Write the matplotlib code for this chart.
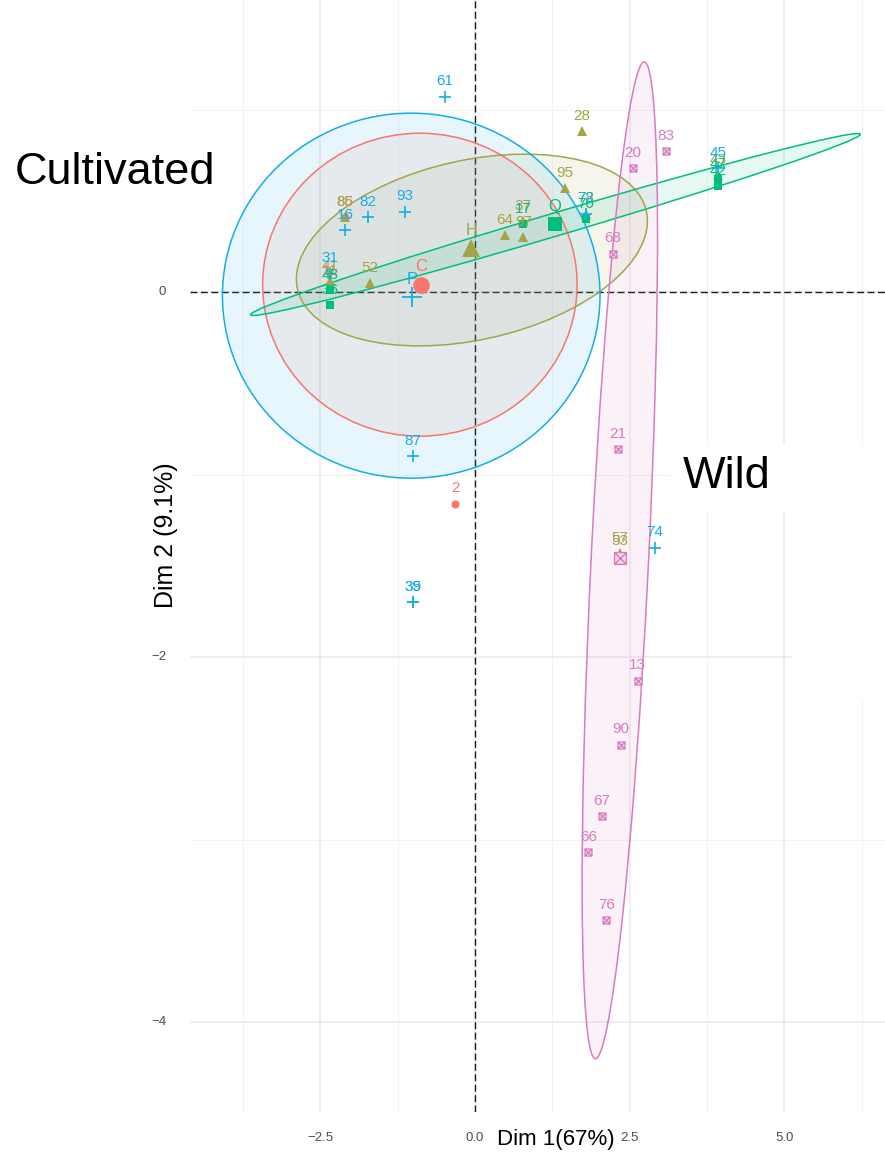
import matplotlib
matplotlib.use("Agg")
import matplotlib.pyplot as plt
from matplotlib.patches import Ellipse, Rectangle
from matplotlib.path import Path

plt.rcParams['font.family'] = ['Liberation Sans', 'DejaVu Sans']

# ---- individuals per group (PCA coordinates, Dim 1 / Dim 2) ----
red_x = [-0.32, -2.10, -2.34]
red_y = [-1.16, 0.41, 0.03]
red_lab = ["2", "85", "11"]

olive_x = [1.73, 1.45, 0.485, 0.78, 0.78, -1.70, -2.10, -2.34, 1.79, 2.34, 2.34, 3.93]
olive_y = [0.88, 0.57, 0.31, 0.30, 0.39, 0.05, 0.41, 0.06, 0.43, -1.43, -1.45, 0.64]
olive_lab = ["28", "95", "64", "97", "37", "52", "86", "41", "78", "57", "53", "43"]

green_x = [0.78, -2.34, -2.34, 3.93, 3.93, 1.79]
green_y = [0.37, 0.01, -0.07, 0.62, 0.58, 0.40]
green_lab = ["17", "48", "36", "47", "42", "70"]

blue_x = [-0.485, -1.73, -1.13, -2.10, -1.00, -1.00, -1.00, 2.91, 1.79, -2.34, 3.93]
blue_y = [1.07, 0.41, 0.44, 0.34, -0.90, -1.70, -1.70, -1.40, 0.43, 0.10, 0.68]
blue_lab = ["61", "82", "93", "16", "87", "35", "39", "74", "72", "31", "45"]

pink_x = [3.09, 2.55, 2.23, 2.31, 2.63, 2.36, 2.05, 1.83, 2.12]
pink_y = [0.77, 0.68, 0.21, -0.86, -2.13, -2.48, -2.87, -3.07, -3.44]
pink_lab = ["83", "20", "68", "21", "13", "90", "67", "66", "76"]

# ---- group means ----
mean_lab = ["C", "H", "Q", "P", ""]
mean_x = [-0.87, -0.06, 1.29, -1.02, 2.34]
mean_y = [0.04, 0.24, 0.37, -0.03, -1.46]

# ---- concentration ellipses: centre, semi-axes, rotation (deg) ----
ell_cx = [-0.89, -0.05, 1.30, -1.03, 2.34]
ell_cy = [0.04, 0.23, 0.37, -0.02, -1.47]
ell_a = [2.54, 2.84, 4.95, 3.05, 2.76]
ell_b = [0.83, 0.50, 0.065, 1.00, 0.46]
ell_ang = [0.0, 3.3, 5.73, 0.0, 81.56]

colors = ["#F8766D", "#A3A548", "#00BF7D", "#12AEEB", "#D97BC0"]

# square-with-cross marker
sq_cross = Path(
    [(-1, -1), (1, -1), (1, 1), (-1, 1), (-1, -1),
     (-1, -1), (1, 1), (-1, 1), (1, -1)],
    [Path.MOVETO, Path.LINETO, Path.LINETO, Path.LINETO, Path.CLOSEPOLY,
     Path.MOVETO, Path.LINETO, Path.MOVETO, Path.LINETO])

W, H = 885, 1155
fig = plt.figure(figsize=(W / 100, H / 100), dpi=100)
fig.patch.set_facecolor("white")
ax = fig.add_axes([190 / W, 1 - 1112 / H, 695 / W, 1112 / H])
ax.set_xlim(-4.604, 6.624)
ax.set_ylim(-4.493, 1.6)
for s in ax.spines.values():
    s.set_visible(False)
ax.set_xticks([-2.5, 0.0, 2.5, 5.0])
ax.set_yticks([-4, -2, 0])
ax.set_xticks([-3.75, -1.25, 1.25, 3.75, 6.25], minor=True)
ax.set_yticks([-3, -1, 1], minor=True)
ax.grid(True, which="major", color="#EBEBEB", lw=1.1, zorder=0)
ax.grid(True, which="minor", color="#F2F2F2", lw=0.7, zorder=0)
ax.tick_params(which="both", length=0, labelbottom=False, labelleft=False)
ax.set_axisbelow(True)

# blank panels at the right-hand side, above the grid but behind the data
for (x0, y0, x1, y1) in [(670, 445, 885, 512), (792, 512, 885, 700)]:
    ax.add_patch(Rectangle((x0 / W, 1 - y1 / H), (x1 - x0) / W, (y1 - y0) / H,
                           transform=fig.transFigure, facecolor="white",
                           edgecolor="none", zorder=0.9))

ax.axhline(0, color="#1a1a1a", lw=1.0, ls=(0, (5, 2.5)), zorder=1)
ax.axvline(0, color="#1a1a1a", lw=1.0, ls=(0, (5, 2.5)), zorder=1)

for cx, cy, a, b, ang, c in zip(ell_cx, ell_cy, ell_a, ell_b, ell_ang, colors):
    ax.add_patch(Ellipse((cx, cy), 2 * a, 2 * b, angle=ang, facecolor=c,
                         alpha=0.1, edgecolor="none", zorder=2))
    ax.add_patch(Ellipse((cx, cy), 2 * a, 2 * b, angle=ang, facecolor="none",
                         edgecolor=c, lw=1.1, zorder=3))

groups = [
    (red_x, red_y, red_lab, dict(marker="o", ms=5.8, mew=0)),
    (olive_x, olive_y, olive_lab, dict(marker="^", ms=7, mew=0)),
    (green_x, green_y, green_lab, dict(marker="s", ms=6, mew=0)),
    (blue_x, blue_y, blue_lab, dict(marker="+", ms=9, mew=1.2)),
    (pink_x, pink_y, pink_lab, dict(marker=sq_cross, ms=5, mew=0.9,
                                    mfc="#F3D9EB")),
]
mean_style = [
    dict(marker="o", ms=12, mew=0),
    dict(marker="^", ms=13, mew=0),
    dict(marker="s", ms=10.5, mew=0),
    dict(marker="+", ms=14, mew=1.3),
    dict(marker=sq_cross, ms=8.5, mew=1.0, mfc="#F3D9EB"),
]

for (xs, ys, labs, st), c in zip(groups, colors):
    ax.plot(xs, ys, ls="none", color=c, zorder=4, **st)
    for x, y, t in zip(xs, ys, labs):
        ax.annotate(t, (x, y), xytext=(0, 11), textcoords="offset points",
                    ha="center", va="center", fontsize=11, color=c, zorder=6)

for x, y, t, st, c in zip(mean_x, mean_y, mean_lab, mean_style, colors):
    ax.plot([x], [y], ls="none", color=c, zorder=5, **st)
    if t:
        ax.annotate(t, (x, y), xytext=(0, 13), textcoords="offset points",
                    ha="center", va="center", fontsize=12, color=c, zorder=6)

# tick labels and axis titles
for v in [-2.5, 0.0, 2.5, 5.0]:
    px = 475 + 61.9 * v
    fig.text(px / W, 1 - 1138 / H, f"{v:.1f}".replace("-", "\u2212"),
             ha="center", va="center", fontsize=9.5, color="#4D4D4D")
for v in [0, -2, -4]:
    py = 292 - 182.5 * v
    fig.text(166 / W, 1 - py / H, f"{v}".replace("-", "\u2212"),
             ha="right", va="center", fontsize=9.5, color="#4D4D4D")

fig.text(556 / W, 1 - 1140 / H, "Dim 1(67%)", ha="center", va="center",
         fontsize=16, color="black")
fig.text(166 / W, 1 - 535 / H, "Dim 2 (9.1%)", ha="center", va="center",
         rotation=90, fontsize=18, color="black")

fig.text(15 / W, 1 - 172 / H, "Cultivated", ha="left", va="center",
         fontsize=32.5, color="black")
fig.text(683 / W, 1 - 477 / H, "Wild", ha="left", va="center",
         fontsize=32.5, color="black")

fig.savefig("out.png", dpi=100, facecolor="white")
